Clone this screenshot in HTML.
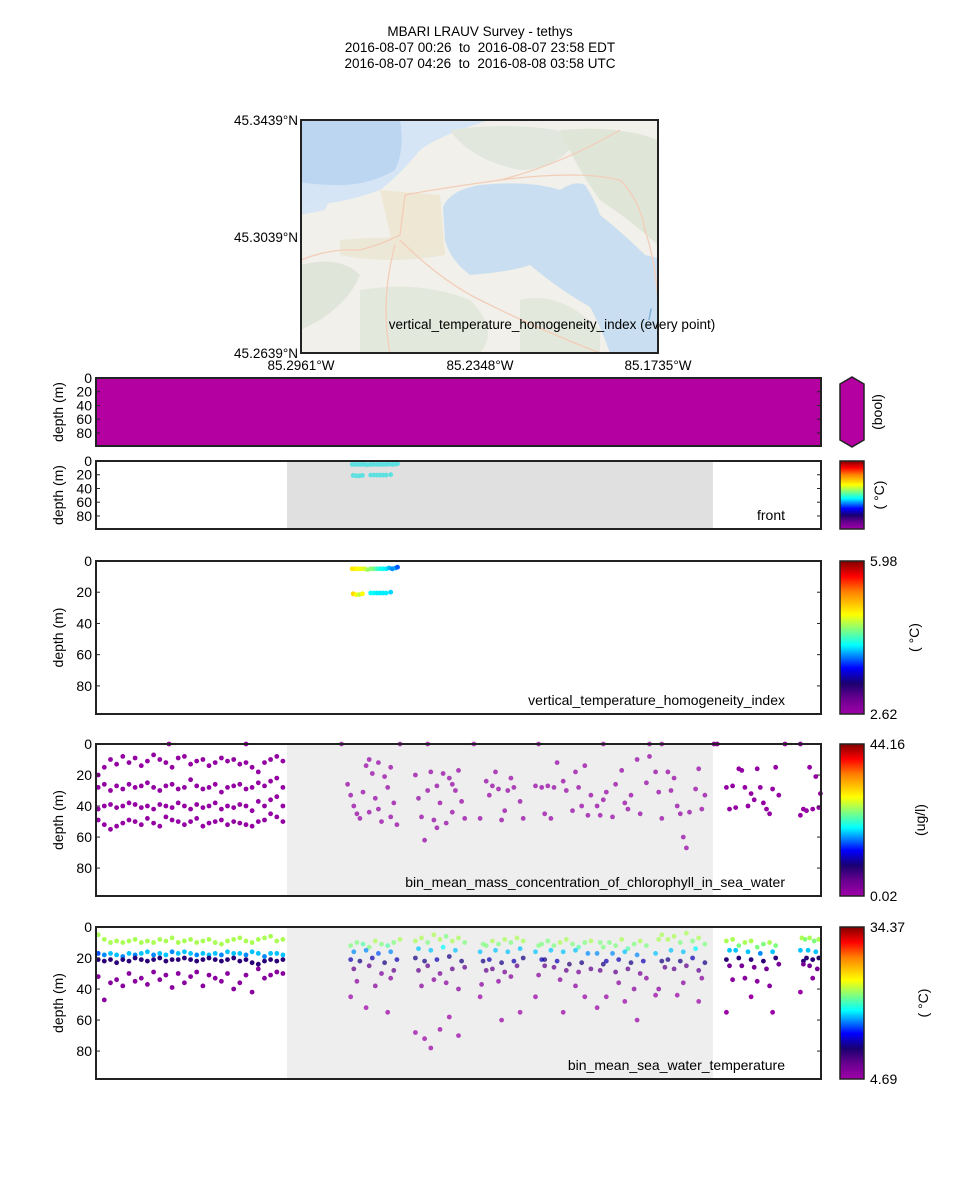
<!DOCTYPE html>
<html><head><meta charset="utf-8"><style>
html,body{margin:0;padding:0;background:#fff;}
svg{display:block;font-family:"Liberation Sans","DejaVu Sans",sans-serif;}
</style></head><body>
<svg id="fig" width="960" height="1200" viewBox="0 0 960 1200" xmlns="http://www.w3.org/2000/svg">
<defs>
<linearGradient id="cmap" x1="0" y1="1" x2="0" y2="0">
<stop offset="0" stop-color="#a000a8"/><stop offset="0.1" stop-color="#6a0090"/><stop offset="0.2" stop-color="#1a0070"/>
<stop offset="0.3" stop-color="#0000ff"/><stop offset="0.45" stop-color="#00ffff"/><stop offset="0.65" stop-color="#ffff00"/>
<stop offset="0.8" stop-color="#ff8000"/><stop offset="0.9" stop-color="#ff0000"/><stop offset="1" stop-color="#800000"/>
</linearGradient>
<clipPath id="mapclip"><rect x="301" y="120" width="357" height="233"/></clipPath>
</defs>
<g font-size="13.5" text-anchor="middle" fill="#000" style="white-space:pre">
<text x="480" y="36">MBARI LRAUV Survey - tethys</text>
<text x="480" y="52" xml:space="preserve">2016-08-07 00:26  to  2016-08-07 23:58 EDT</text>
<text x="480" y="68" xml:space="preserve">2016-08-07 04:26  to  2016-08-08 03:58 UTC</text>
</g>
<g clip-path="url(#mapclip)">
<rect x="301" y="120" width="357" height="233" fill="#f1f0ea"/>
<path d="M301,120 L490,120 Q440,135 420,150 Q400,175 380,190 Q340,205 301,205Z" fill="#d5e5f5"/>
<path d="M301,120 L400,120 Q405,150 395,170 Q370,185 340,185 Q315,185 301,182Z" fill="#bcd6f2"/>
<path d="M301,205 Q320,200 330,198 L325,210 L301,215Z" fill="#d7e6f5"/>
<path d="M443,207 Q450,190 480,185 Q530,180 560,190 Q575,180 585,185 Q595,200 600,215 Q625,235 645,255 L658,258 L658,353 L610,353 Q600,325 590,307 Q560,290 530,265 Q510,272 470,275 Q450,260 445,240Z" fill="#c9def0"/>
<path d="M628,150 Q640,160 635,195 L625,190 Q622,165 628,150Z" fill="#c9def0"/>
<path d="M340,240 Q390,235 440,240 L445,255 Q390,265 340,255Z" fill="#ece8d8"/>
<path d="M380,190 L440,195 L445,255 L395,255Z" fill="#eee7d4"/>
<path d="M301,265 Q340,255 360,275 Q350,300 320,320 L301,330Z" fill="#dfe5d8"/>
<path d="M450,130 Q520,120 580,135 Q560,170 520,170 Q470,160 450,130Z" fill="#e1e7dc"/>
<path d="M560,130 Q620,125 658,140 L658,245 Q630,220 600,200 Q575,165 560,130Z" fill="#dfe6d8"/>
<path d="M360,290 Q420,280 470,300 Q500,330 480,353 L360,353Z" fill="#e3e8dc"/>
<path d="M520,300 Q560,290 600,330 L600,353 L520,353Z" fill="#e3e8dc"/>
<path d="M301,260 Q330,248 360,250 Q380,245 400,235 L405,195 Q430,190 500,180 Q560,165 620,130" fill="none" stroke="#f3cdb8" stroke-width="1.3"/>
<path d="M500,180 Q580,170 620,180 Q640,200 645,230 Q655,260 658,300" fill="none" stroke="#f3cdb8" stroke-width="1.3"/>
<path d="M400,240 Q440,280 480,300 Q540,330 600,353" fill="none" stroke="#f3cdb8" stroke-width="1.3"/>
<path d="M395,245 Q380,300 390,353" fill="none" stroke="#f3cdb8" stroke-width="1.3"/>
<text x="648" y="320" fill="#7fb0d8" font-size="16" font-style="italic">l</text>
</g>
<rect x="301" y="120" width="357" height="233" fill="none" stroke="#222" stroke-width="2"/>
<g font-size="13.5" text-anchor="end">
<text x="298" y="125">45.3439°N</text><text x="298" y="242">45.3039°N</text><text x="298" y="358">45.2639°N</text>
</g>
<g font-size="13.5" text-anchor="middle">
<text x="301" y="370">85.2961°W</text><text x="480" y="370">85.2348°W</text><text x="658" y="370">85.1735°W</text>
</g>
<text x="552" y="329" font-size="13.5" text-anchor="middle">vertical_temperature_homogeneity_index (every point)</text>
<g id="panels"></g>
</svg>
<script>
// time in hours (EDT) ; depth in m ; values in units
const hourMin = 0.43, hourMax = 23.97;
const grayStart = 6.63, grayEnd = 20.46;

const vthHour = [8.75,8.85,8.95,9.05,9.15,9.25,9.35,9.45,9.55,9.65,9.75,9.85,9.95,10.05,10.15,10.22, 8.78,8.88,8.98,9.08,9.35,9.45,9.55,9.65,9.75,9.85,10.0];
const vthDepth = [5,5,5,5,5,5.5,5,5,5,5,5,5,4.5,5,4.5,4, 21,21.5,21.5,21, 20.5,20.5,20.5,20.5,20.5,20.5,20];
const vthValue = [4.9,4.85,4.8,4.75,4.7,4.55,4.5,4.45,4.3,4.2,4.15,4.1,4.0,3.9,3.95,3.8, 4.95,4.8,4.65,4.8, 4.15,4.15,4.1,4.1,4.1,4.1,4.05];

const chlHour = [
0.5,0.7,0.9,1.1,1.3,1.5,1.7,1.9,2.1,2.3,2.5,2.7,2.9,3.1,3.3,3.5,3.7,3.9,4.1,4.3,4.5,4.7,4.9,5.1,5.3,5.5,5.7,5.9,6.1,6.3,6.5,
0.5,0.7,0.9,1.1,1.3,1.5,1.7,1.9,2.1,2.3,2.5,2.7,2.9,3.1,3.3,3.5,3.7,3.9,4.1,4.3,4.5,4.7,4.9,5.1,5.3,5.5,5.7,5.9,6.1,6.3,6.5,
0.5,0.7,0.9,1.1,1.3,1.5,1.7,1.9,2.1,2.3,2.5,2.7,2.9,3.1,3.3,3.5,3.7,3.9,4.1,4.3,4.5,4.7,4.9,5.1,5.3,5.5,5.7,5.9,6.1,6.3,6.5,
0.5,0.7,0.9,1.1,1.3,1.5,1.7,1.9,2.1,2.3,2.5,2.7,2.9,3.1,3.3,3.5,3.7,3.9,4.1,4.3,4.5,4.7,4.9,5.1,5.3,5.5,5.7,5.9,6.1,6.3,6.5,
8.6,8.7,8.8,8.9,9.0,9.1,9.2,9.3,9.4,9.5,9.6,9.7,9.8,9.9,10.0,10.1,10.2,9.3,9.6,10.0,
10.8,10.9,11.0,11.1,11.2,11.3,11.4,11.5,11.6,11.7,11.8,11.9,12.0,12.1,12.2,12.3,12.4,11.5,12.0,
12.9,13.1,13.2,13.4,13.5,13.6,13.8,13.9,14.0,14.2,14.3,13.3,13.7,
14.7,14.9,15.0,15.1,15.2,15.4,15.6,15.7,15.9,16.0,16.1,16.3,16.4,16.5,15.3,16.2,
16.7,16.9,17.0,17.2,17.3,17.5,17.7,17.8,18.0,18.1,18.3,18.4,16.8,17.6,
18.6,18.7,18.8,19.0,19.2,19.3,19.4,19.5,19.6,19.7,19.9,20.0,20.1,20.2,19.1,
20.9,21.0,21.1,21.2,21.4,21.5,21.6,21.7,21.8,21.9,22.0,22.1,22.2,22.4,22.5,22.6,21.3,22.3,
23.3,23.4,23.5,23.6,23.7,23.8,23.9,23.95,
2.8,5.3,8.4,10.3,11.2,12.7,14.8,16.9,18.4,18.8,20.5,20.6,22.8,23.3];
const chlDepth = [
20,15,10,13,8,12,9,14,11,7,10,12,15,9,8,13,11,10,14,12,9,11,10,13,12,15,18,12,10,8,11,
28,26,30,27,29,26,28,27,25,28,30,27,26,29,28,23,27,29,28,26,31,28,27,26,29,28,25,27,24,22,28,
42,40,39,41,40,38,39,41,40,42,39,40,41,38,40,42,39,41,40,38,42,40,41,39,40,43,37,40,36,34,40,
49,52,55,53,51,49,50,52,48,51,53,47,49,50,52,50,48,53,51,50,49,52,50,51,52,53,50,49,45,47,50,
26,33,40,45,48,31,14,10,19,35,42,50,21,28,15,38,52,44,12,47,
20,35,47,62,30,18,49,27,38,19,51,22,44,30,17,37,48,54,26,
48,24,33,18,29,49,30,22,28,37,48,27,43,
27,28,45,27,48,12,24,30,43,18,28,14,46,33,28,40,
40,36,31,47,26,17,42,33,10,45,25,8,46,38,
18,31,48,18,22,40,45,60,67,44,29,16,42,33,30,
28,42,27,41,17,28,40,32,36,16,28,38,42,29,15,33,16,45,
46,42,43,15,42,21,41,32,
0,0,0,0,0,0,0,0,0,0,0,0,0,0];
const chlValue = [
1.2,1.0,1.1,0.9,1.0,1.2,1.1,0.9,1.0,1.1,1.0,1.2,0.9,1.0,1.1,1.0,1.2,1.1,0.9,1.0,1.1,1.0,1.2,1.0,0.9,1.1,1.0,1.1,1.0,1.2,1.0,
1.0,1.1,0.9,1.0,1.2,1.0,1.1,0.9,1.0,1.1,1.0,1.0,1.2,0.9,1.0,1.1,1.0,1.0,1.1,0.9,1.0,1.2,1.0,1.1,1.0,0.9,1.0,1.1,1.0,1.0,1.1,
1.0,0.9,1.0,1.1,1.0,1.0,1.2,0.9,1.0,1.1,1.0,1.0,0.9,1.0,1.1,1.0,1.2,1.0,0.9,1.0,1.1,1.0,1.0,0.9,1.1,1.0,1.0,1.2,1.0,0.9,1.0,
0.9,1.0,1.1,1.0,1.0,0.9,1.0,1.1,1.0,1.0,0.9,1.0,1.1,1.0,1.0,0.9,1.0,1.1,1.0,1.0,0.9,1.0,1.1,1.0,1.0,0.9,1.0,1.1,1.0,1.0,0.9,
1.0,1.1,0.9,1.0,1.0,1.1,1.0,0.9,1.0,1.1,1.0,1.0,0.9,1.0,1.1,1.0,1.0,0.9,1.0,1.1,
1.0,1.1,0.9,1.0,1.0,1.1,1.0,0.9,1.0,1.1,1.0,1.0,0.9,1.0,1.1,1.0,1.0,0.9,1.0,
1.0,1.1,0.9,1.0,1.0,1.1,1.0,0.9,1.0,1.1,1.0,1.0,0.9,
1.0,1.1,0.9,1.0,1.0,1.1,1.0,0.9,1.0,1.1,1.0,1.0,0.9,1.0,1.1,1.0,
1.0,1.1,0.9,1.0,1.0,1.1,1.0,0.9,1.0,1.1,1.0,1.0,0.9,1.0,
1.0,1.1,0.9,1.0,1.0,1.1,1.0,0.9,1.0,1.1,1.0,1.0,0.9,1.0,1.1,
1.0,1.1,0.9,1.0,1.0,1.1,1.0,0.9,1.0,1.1,1.0,1.0,0.9,1.0,1.1,1.0,1.0,0.9,
1.0,1.1,0.9,1.0,1.0,1.1,1.0,0.9,
1.0,1.0,1.0,1.0,1.0,1.0,1.0,1.0,1.0,1.0,1.0,1.0,1.0,1.0];

const tempHour = [
0.5,0.7,0.9,1.1,1.3,1.5,1.7,1.9,2.1,2.3,2.5,2.7,2.9,3.1,3.3,3.5,3.7,3.9,4.1,4.3,4.5,4.7,4.9,5.1,5.3,5.5,5.7,5.9,6.1,6.3,6.5,
0.5,0.7,0.9,1.1,1.3,1.5,1.7,1.9,2.1,2.3,2.5,2.7,2.9,3.1,3.3,3.5,3.7,3.9,4.1,4.3,4.5,4.7,4.9,5.1,5.3,5.5,5.7,5.9,6.1,6.3,6.5,
0.5,0.7,0.9,1.1,1.3,1.5,1.7,1.9,2.1,2.3,2.5,2.7,2.9,3.1,3.3,3.5,3.7,3.9,4.1,4.3,4.5,4.7,4.9,5.1,5.3,5.5,5.7,5.9,6.1,6.3,6.5,
0.5,0.7,0.9,1.1,1.3,1.5,1.7,1.9,2.1,2.3,2.5,2.7,2.9,3.1,3.3,3.5,3.7,3.9,4.1,4.3,4.5,4.7,4.9,5.1,5.3,5.5,5.7,5.9,6.1,6.3,6.5,
8.7,8.9,9.1,9.3,9.5,9.7,9.9,10.1,10.3, 8.8,9.2,9.6,10.0, 8.7,9.0,9.4,9.8,10.2, 8.8,9.3,9.7,10.1, 8.9,9.5,10.0, 8.7,9.2,9.9,
10.8,11.0,11.2,11.4,11.6,11.8,12.0,12.2,12.4, 10.9,11.3,11.7,12.1, 10.8,11.1,11.5,11.9,12.3, 10.9,11.2,11.6,12.0,12.4, 11.0,11.4,11.8,12.2, 10.8,11.1,11.3,11.6,11.9,12.2,
12.9,13.1,13.3,13.5,13.7,13.9,14.1,14.3, 13.0,13.4,13.8,14.2, 12.9,13.2,13.6,14.0,14.3, 13.0,13.3,13.7,14.1, 13.1,13.5,13.9, 12.95,13.6,14.2,
14.7,14.9,15.1,15.3,15.5,15.7,15.9,16.1,16.3,16.5, 14.8,15.2,15.6,16.0,16.4, 14.7,15.0,15.4,15.8,16.2, 14.9,15.3,15.7,16.1,16.5, 15.0,15.5,16.0, 14.8,15.6,16.3,
16.7,16.9,17.1,17.3,17.5,17.7,17.9,18.1,18.3, 16.8,17.2,17.6,18.0, 16.7,17.0,17.4,17.8,18.2, 16.9,17.3,17.7,18.1, 16.8,17.4,17.9,18.3, 17.0,17.6,18.0,
18.6,18.8,19.0,19.2,19.4,19.6,19.8,20.0,20.2, 18.7,19.1,19.5,19.9, 18.6,19.0,19.4,19.8,20.2, 18.8,19.2,19.6,20.0, 18.9,19.5,20.1, 18.7,19.3,20.0,
20.9,21.1,21.3,21.5,21.7,21.9,22.1,22.3,22.5, 20.9,21.2,21.6,22.0,22.4, 21.0,21.3,21.7,22.1,22.5, 20.9,21.4,21.8,22.2,22.6, 21.0,21.5,21.9,22.3, 21.1,21.7,22.4,
23.3,23.45,23.6,23.75,23.9, 23.35,23.55,23.8, 23.3,23.5,23.7,23.9, 23.4,23.6,23.85, 23.4,23.7];
const tempDepth = [
5,8,10,9,10,9,8,10,9,10,8,9,7,10,9,8,10,9,8,10,11,9,8,7,9,10,8,7,6,9,8,
17,18,17,18,19,17,18,17,16,18,17,18,16,17,16,17,18,17,18,17,18,16,17,17,18,16,17,19,17,17,18,
21,22,21,23,21,22,20,21,22,21,20,22,21,21,20,21,22,21,20,21,22,21,20,22,21,23,24,22,21,22,21,
32,47,36,34,38,30,35,33,37,29,34,31,39,30,36,32,29,38,31,33,35,30,40,36,31,42,27,33,31,29,30,
12,10,11,13,9,11,12,10,8, 16,15,17,16, 21,22,20,23,21, 27,25,30,28, 35,38,33, 45,52,55,
9,7,10,5,8,6,9,7,10, 14,15,13,15, 20,22,21,19,22, 28,25,30,27,26, 38,34,36,40, 68,72,78,66,58,70,45,
12,9,11,8,10,7,9,11, 15,16,14,16, 21,23,22,20,22, 27,29,25,28, 35,32,37, 60,55,45,
11,9,12,10,8,11,13,10,9,12, 15,16,15,17,16, 21,22,24,23,21, 26,28,29,27,25, 34,38,31, 55,45,52,
13,10,12,8,14,11,9,12,10, 17,16,18,17, 22,21,23,22,24, 29,27,30,28, 36,40,33,45, 48,60,44,
5,8,6,10,4,9,7,11,8, 15,16,14,17, 21,22,20,23,22, 27,25,28,26, 36,33,40, 44,48,55,
8,12,10,9,13,11,10,12,9, 15,16,17,16,15, 20,21,22,20,21, 25,26,27,24,25, 33,35,38,34, 45,55,42,
8,7,9,8,7, 15,16,15, 20,21,20,22, 25,27,24, 33,36];
const tempValue = [
22,22,22,22,22,22,22,22,22,22,22,22,22,22,22,22,22,22,22,22,22,22,22,22,22,22,22,22,22,22,22,
15,16,17,17,16,17,16,17,17,16,17,17,16,17,17,17,16,17,17,17,16,17,17,17,16,17,17,16,17,17,17,
10,10,10,10,10,10,10,10,10,10,10,10,10,10,10,10,10,10,10,10,10,10,10,10,10,10,10,10,10,10,10,
6,6,6,6,6,6,6,6,6,6,6,6,6,6,6,6,6,6,6,6,6,6,6,6,6,6,6,6,6,6,6,
21,21,20,21,22,21,20,21,22, 16,16,15,16, 12,11,12,11,12, 8,8,7,8, 6,6,6, 5,5,5,
22,22,21,22,22,21,22,22,21, 17,17,18,17, 11,11,12,11,11, 8,8,7,8,8, 6,6,6,6, 5,5,5,5,5,5,5,
21,22,21,22,21,22,22,21, 17,17,17,17, 12,11,12,11,11, 8,7,8,8, 6,6,6, 5,5,5,
21,21,21,22,22,21,20,21,22,21, 17,17,17,16,17, 11,12,10,11,12, 8,8,7,8,8, 6,6,6, 5,5,5,
21,21,21,22,20,21,22,21,21, 16,17,16,16, 12,12,11,12,11, 8,8,7,8, 6,6,6,5, 5,5,5,
22,22,22,21,22,21,22,21,22, 17,17,18,17, 11,11,12,11,11, 8,8,8,8, 6,6,6, 5,5,5,
22,21,22,22,21,21,22,21,22, 17,17,16,17,17, 10,10,10,10,10, 7,7,7,7,7, 6,6,6,6, 5,5,5,
21,22,21,22,22, 17,17,17, 10,10,10,10, 7,7,7, 6,6];

const svgNS = "http://www.w3.org/2000/svg";
const root = document.getElementById('panels');
const X0 = 96, X1 = 821, CBX = 840, CBW = 24;
const stops = [[0,[160,0,168]],[0.1,[106,0,144]],[0.2,[26,0,112]],[0.3,[0,0,255]],[0.45,[0,255,255]],[0.65,[255,255,0]],[0.8,[255,128,0]],[0.9,[255,0,0]],[1,[128,0,0]]];
function cmap(t){
  t = Math.max(0, Math.min(1, t));
  for (let i = 1; i < stops.length; i++) {
    if (t <= stops[i][0]) {
      const a = stops[i-1], b = stops[i], f = (t - a[0]) / (b[0] - a[0]);
      const c = a[1].map((v, k) => Math.round(v + (b[1][k] - v) * f));
      return 'rgb(' + c.join(',') + ')';
    }
  }
  return 'rgb(128,0,0)';
}
function xScale(h){ return X0 + (h - hourMin) / (hourMax - hourMin) * (X1 - X0); }
function mk(tag, attrs, parent){
  const e = document.createElementNS(svgNS, tag);
  for (const k in attrs) e.setAttribute(k, attrs[k]);
  (parent || root).appendChild(e);
  return e;
}
function txt(s, attrs, parent){ const e = mk('text', attrs, parent); e.textContent = s; return e; }

function panel(opt){
  const g = mk('g', {});
  
  
  const yS = d => opt.y0 + d / opt.dmax * (opt.y1 - opt.y0);
  if (opt.fill) mk('rect', {x:X0, y:opt.y0, width:X1-X0, height:opt.y1-opt.y0, fill:opt.fill}, g);
  if (opt.shade) {
    const r = mk('rect', {x:xScale(grayStart), y:opt.y0, width:xScale(grayEnd)-xScale(grayStart), height:opt.y1-opt.y0, fill:opt.shade}, g);
    
    
  }
  if (opt.hours) {
    const pts = mk('g', {}, g);
    
    
    for (let i = 0; i < opt.hours.length; i++) {
      const h = opt.hours[i];
      const inGray = h > grayStart && h < grayEnd;
      const col = opt.color ? opt.color : cmap((opt.vals[i] - opt.vmin) / (opt.vmax - opt.vmin));
      const c = mk('circle', {cx:xScale(h).toFixed(1), cy:yS(opt.depths[i]).toFixed(1), r:2.4, fill:col, 'fill-opacity': (opt.alphaGray && inGray) ? 0.72 : 1}, pts);
      
      
    }
  }
  const tickG = mk('g', {stroke:'#222', 'stroke-width':1}, g);
  const labG = mk('g', {'font-size':14, 'text-anchor':'end', fill:'#000'}, g);
  
  
  [0,20,40,60,80].forEach(v => {
    const y = yS(v);
    mk('line', {x1:X0, x2:X0+4, y1:y, y2:y}, tickG);
    mk('line', {x1:X1-4, x2:X1, y1:y, y2:y}, tickG);
    txt(String(v), {x:X0-4, y:y+5}, labG);
  });
  const fr = mk('rect', {x:X0, y:opt.y0, width:X1-X0, height:opt.y1-opt.y0, fill:'none', stroke:'#222', 'stroke-width':2}, g);
  
  
  const yl = txt('depth (m)', {x:0, y:0, 'font-size':14, 'text-anchor':'middle', transform:'translate(63,'+((opt.y0+opt.y1)/2)+') rotate(-90)'}, g);
  
  
  if (opt.label) {
    const l = txt(opt.label, {x:785, y:opt.y1-9, 'font-size':14, 'text-anchor':'end'}, g);
    
    
  }
  const cb = mk('g', {}, g);
  
  
  if (opt.bool) {
    const y0 = opt.y0, y1 = opt.y1;
    mk('path', {d:'M'+CBX+','+(y0+6)+' L'+(CBX+CBW/2)+','+(y0-1)+' L'+(CBX+CBW)+','+(y0+6)+' L'+(CBX+CBW)+','+(y1-6)+' L'+(CBX+CBW/2)+','+(y1+1)+' L'+CBX+','+(y1-6)+'Z', fill:'#b400a0', stroke:'#222', 'stroke-width':1.5}, cb);
  } else {
    mk('rect', {x:CBX, y:opt.y0, width:CBW, height:opt.y1-opt.y0, fill:'url(#cmap)', stroke:'#222', 'stroke-width':1.5}, cb);
  }
  if (opt.vmaxLabel) {
    txt(opt.vmaxLabel, {x:870, y:opt.y0+5, 'font-size':14}, cb);
    txt(opt.vminLabel, {x:870, y:opt.y1+5, 'font-size':14}, cb);
  }
  txt(opt.unit, {x:0, y:0, 'font-size':14, 'text-anchor':'middle', transform:'translate('+opt.unitX+','+((opt.y0+opt.y1)/2)+') rotate(-90)'}, cb);
}

panel({name:'panel-homogeneity-every-point', y0:378, y1:446, dmax:99, fill:'#b400a0', bool:true, unit:'(bool)', unitX:882});
panel({name:'panel-front', y0:461, y1:529, dmax:99, shade:'#e0e0e0', hours:vthHour, depths:vthDepth, color:'#5ce0e0', label:'front', unit:'( °C)', unitX:884});
panel({name:'panel-homogeneity-index', y0:561, y1:714, dmax:98, hours:vthHour, depths:vthDepth, vals:vthValue, vmin:2.62, vmax:5.98, label:'vertical_temperature_homogeneity_index', unit:'( °C)', unitX:919, vmaxLabel:'5.98', vminLabel:'2.62'});
panel({name:'panel-chlorophyll', y0:744, y1:896, dmax:98, shade:'#eeeeee', alphaGray:true, hours:chlHour, depths:chlDepth, vals:chlValue, vmin:0.02, vmax:44.16, label:'bin_mean_mass_concentration_of_chlorophyll_in_sea_water', unit:'(ug/l)', unitX:925, vmaxLabel:'44.16', vminLabel:'0.02'});
panel({name:'panel-temperature', y0:927, y1:1079, dmax:98, shade:'#eeeeee', alphaGray:true, hours:tempHour, depths:tempDepth, vals:tempValue, vmin:4.69, vmax:34.37, label:'bin_mean_sea_water_temperature', unit:'( °C)', unitX:928, vmaxLabel:'34.37', vminLabel:'4.69'});
</script>
</body></html>
